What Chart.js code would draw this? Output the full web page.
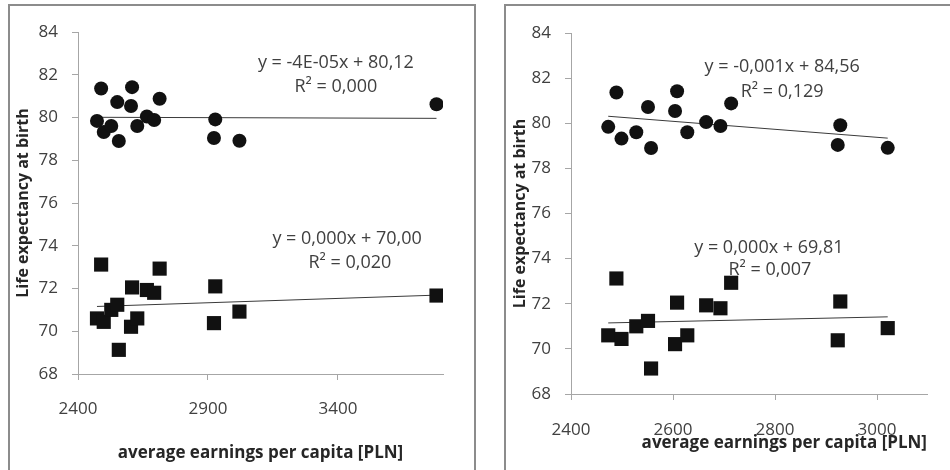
<!DOCTYPE html>
<html>
<head>
<meta charset="utf-8">
<script src="https://cdn.jsdelivr.net/npm/chart.js@4.4.0/dist/chart.umd.min.js"></script>
<style>
    body { margin: 0; background: #fff; width: 950px; height: 470px; overflow: hidden; position: relative; }
    .frame { position: absolute; border: 2px solid #8c8c8c; box-sizing: border-box; }
    canvas { position: absolute; top: 0; }
</style>
</head>
<body>
<div class="frame" style="left:8px; top:4px; width:468px; height:480px;"></div>
<div class="frame" style="left:504px; top:4px; width:460px; height:480px;"></div>
<canvas id="leftChart" width="475" height="470" style="left:0"></canvas>
<canvas id="rightChart" width="470" height="470" style="left:480px"></canvas>
<script>
// Data (one entry per region)
const earnings   = [2473, 2489, 2499, 2528, 2551, 2557, 2604, 2608, 2628, 2665, 2693, 2714, 2928, 2923, 3021, 3779];
const femaleLife = [79.84, 81.36, 79.32, 79.60, 80.72, 78.90, 80.54, 81.42, 79.60, 80.05, 79.88, 80.88, 79.91, 79.04, 78.91, 80.62];
const maleLife   = [70.60, 73.12, 70.44, 71.00, 71.24, 69.13, 70.21, 72.05, 70.60, 71.93, 71.80, 72.93, 72.10, 70.38, 70.92, 71.67];

// Right chart leaves out the last (highest earnings) region
const rightCount = 15;

// Trend line end points (x, y)
const leftFemaleTrendX  = [2473, 3779];
const leftFemaleTrendY  = [80.01, 79.96];
const leftMaleTrendX    = [2473, 3779];
const leftMaleTrendY    = [71.16, 71.69];
const rightFemaleTrendX = [2473, 3021];
const rightFemaleTrendY = [80.31, 79.34];
const rightMaleTrendX   = [2473, 3021];
const rightMaleTrendY   = [71.15, 71.42];

// Tick labels
const yTicks      = [68, 70, 72, 74, 76, 78, 80, 82, 84];
const leftXTicks  = [2400, 2900, 3400];
const rightXTicks = [2400, 2600, 2800, 3000];

// Regression equations, anchored in data coordinates
const leftEquations = [
    { text: 'y = -4E-05x + 80,12', x: 3392, y: 82.55 },
    { text: 'R\u00b2 = 0,000',      x: 3392, y: 81.43 },
    { text: 'y = 0,000x + 70,00',  x: 3435, y: 74.33 },
    { text: 'R\u00b2 = 0,020',      x: 3446, y: 73.21 }
];
const rightEquations = [
    { text: 'y = -0,001x + 84,56', x: 2814, y: 82.50 },
    { text: 'R\u00b2 = 0,129',      x: 2814, y: 81.39 },
    { text: 'y = 0,000x + 69,81',  x: 2788, y: 74.49 },
    { text: 'R\u00b2 = 0,007',      x: 2790, y: 73.51 }
];

const FONT = "'Open Sans', sans-serif";
const AXIS_COLOR = '#a6a6a6';
const TEXT_COLOR = '#404040';

function pairs(xs, ys) {
    return xs.map((x, i) => ({ x: x, y: ys[i] }));
}

// Draws the equation text under the markers
function equationPlugin(labels) {
    return {
        id: 'equations',
        beforeDatasetsDraw(chart) {
            const { ctx, scales } = chart;
            ctx.save();
            ctx.font = '18px ' + FONT;
            ctx.fillStyle = TEXT_COLOR;
            ctx.textAlign = 'center';
            ctx.textBaseline = 'middle';
            labels.forEach(l => {
                ctx.fillText(l.text, scales.x.getPixelForValue(l.x), scales.y.getPixelForValue(l.y));
            });
            ctx.restore();
        }
    };
}

function buildChart(canvasId, cfg) {
    const n = cfg.count;
    const ctx = document.getElementById(canvasId).getContext('2d');

    return new Chart(ctx, {
        type: 'scatter',
        data: {
            datasets: [
                {
                    type: 'line',
                    data: pairs(cfg.femaleTrendX, cfg.femaleTrendY),
                    borderColor: '#3a3a3a',
                    borderWidth: 1,
                    pointRadius: 0,
                    order: 2
                },
                {
                    type: 'line',
                    data: pairs(cfg.maleTrendX, cfg.maleTrendY),
                    borderColor: '#3a3a3a',
                    borderWidth: 1,
                    pointRadius: 0,
                    order: 2
                },
                {
                    label: 'female',
                    data: pairs(earnings.slice(0, n), femaleLife.slice(0, n)),
                    pointStyle: 'circle',
                    pointRadius: 7,
                    pointBackgroundColor: '#111',
                    pointBorderWidth: 0,
                    order: 1
                },
                {
                    label: 'male',
                    data: pairs(earnings.slice(0, n), maleLife.slice(0, n)),
                    pointStyle: 'rect',
                    pointRadius: 10,
                    pointBackgroundColor: '#111',
                    pointBorderWidth: 0,
                    order: 1
                }
            ]
        },
        options: {
            responsive: false,
            animation: false,
            devicePixelRatio: 1,
            layout: { padding: { top: cfg.padTop, right: cfg.padRight, left: 0, bottom: 0 } },
            plugins: { legend: { display: false }, tooltip: { enabled: false } },
            scales: {
                x: {
                    type: 'linear',
                    min: cfg.xMin,
                    max: cfg.xMax,
                    afterBuildTicks: s => { s.ticks = cfg.xTicks.map(v => ({ value: v })); },
                    afterFit: s => { s.height = cfg.xAxisHeight; },
                    grid: { drawOnChartArea: false, tickLength: 6, color: AXIS_COLOR },
                    border: { color: AXIS_COLOR },
                    ticks: {
                        padding: cfg.xTickPad,
                        color: TEXT_COLOR,
                        font: { family: FONT, size: 17 },
                        callback: v => String(v)
                    },
                    title: {
                        display: true,
                        text: 'average earnings per capita [PLN]',
                        align: cfg.xTitleAlign,
                        color: '#262626',
                        font: { family: FONT, size: 17, weight: 'bold' },
                        padding: { top: 0, bottom: cfg.xTitlePad }
                    }
                },
                y: {
                    type: 'linear',
                    min: 68,
                    max: 84,
                    afterBuildTicks: s => { s.ticks = yTicks.map(v => ({ value: v })); },
                    afterFit: s => { s.width = cfg.yAxisWidth; },
                    grid: { drawOnChartArea: false, tickLength: 6, color: AXIS_COLOR },
                    border: { color: AXIS_COLOR },
                    ticks: {
                        padding: 14,
                        color: TEXT_COLOR,
                        font: { family: FONT, size: 17 },
                        callback: v => String(v)
                    },
                    title: {
                        display: true,
                        text: 'Life expectancy at birth',
                        color: '#262626',
                        font: { family: FONT, size: 16, weight: 'bold' },
                        padding: { top: cfg.yTitlePad, bottom: 0 }
                    }
                }
            }
        },
        plugins: [equationPlugin(cfg.equations)]
    });
}

buildChart('leftChart', {
    count: earnings.length,
    femaleTrendX: leftFemaleTrendX, femaleTrendY: leftFemaleTrendY,
    maleTrendX: leftMaleTrendX, maleTrendY: leftMaleTrendY,
    xMin: 2400, xMax: 3804, xTicks: leftXTicks,
    equations: leftEquations,
    padTop: 32, padRight: 32,
    xAxisHeight: 96, yAxisWidth: 78,
    xTickPad: 19, xTitlePad: 7, xTitleAlign: 'center',
    yTitlePad: 14
});

buildChart('rightChart', {
    count: rightCount,
    femaleTrendX: rightFemaleTrendX, femaleTrendY: rightFemaleTrendY,
    maleTrendX: rightMaleTrendX, maleTrendY: rightMaleTrendY,
    xMin: 2400, xMax: 3098, xTicks: rightXTicks,
    equations: rightEquations,
    padTop: 33, padRight: 23,
    xAxisHeight: 76, yAxisWidth: 91,
    xTickPad: 20, xTitlePad: 17, xTitleAlign: 'end',
    yTitlePad: 31
});
</script>
</body>
</html>
